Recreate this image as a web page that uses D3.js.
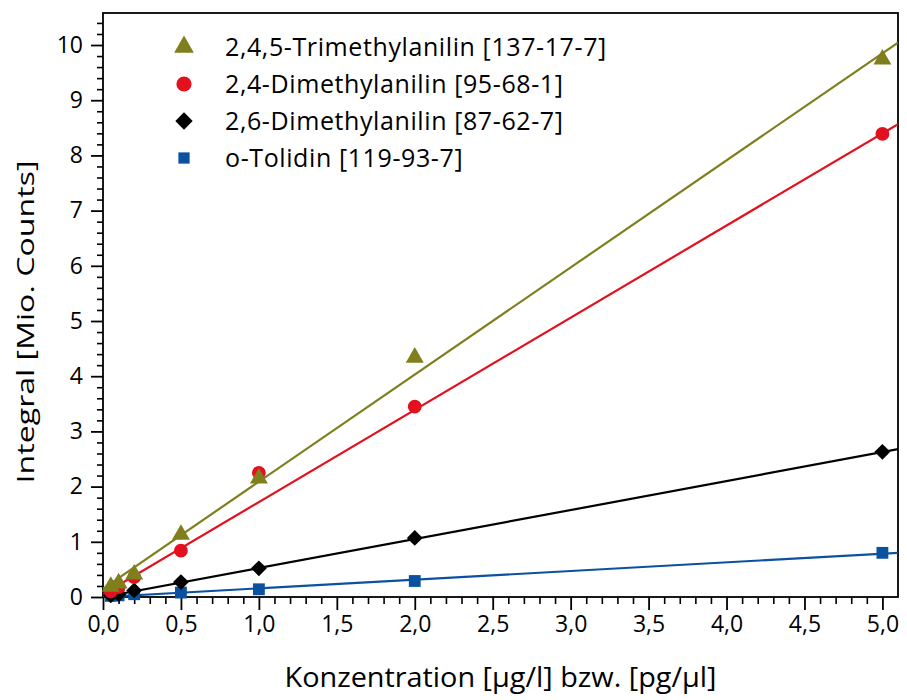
<!DOCTYPE html>
<html>
<head>
<meta charset="utf-8">
<script src="https://cdn.jsdelivr.net/npm/d3@7"></script>
<style>
  html, body { margin: 0; padding: 0; background: #fff; }
  svg { display: block; font-family: "Open Sans", "Noto Sans", sans-serif; }
</style>
</head>
<body>
<svg id="chart" width="907" height="700"></svg>
<script>
// Concentrations (µg/l) shared by all series
const concentrations = [0.05, 0.1, 0.2, 0.5, 1.0, 2.0, 5.0];

// Series names and measured integrals (Mio. counts)
const seriesNames = [
  "2,4,5-Trimethylanilin [137-17-7]",
  "2,4-Dimethylanilin [95-68-1]",
  "2,6-Dimethylanilin [87-62-7]",
  "o-Tolidin [119-93-7]"
];
const trimethylanilin = [0.19, 0.25, 0.41, 1.13, 2.15, 4.34, 9.74];
const dimethylanilin24 = [0.10, 0.18, 0.36, 0.84, 2.25, 3.45, 8.39];
const dimethylanilin26 = [0.03, 0.05, 0.12, 0.27, 0.52, 1.07, 2.63];
const tolidin = [0.02, 0.03, 0.05, 0.08, 0.14, 0.29, 0.80];

// Linear calibration fits: y = slope * x + intercept
const fitSlopes = [1.94, 1.67, 0.525, 0.157];
const fitIntercepts = [0.15, 0.05, 0.0, 0.0];

const seriesColors = ["#7f7f1e", "#e3101e", "#000000", "#0a52a0"];
const seriesValues = [trimethylanilin, dimethylanilin24, dimethylanilin26, tolidin];

// Axis ticks
const xMajorTicks = [0, 0.5, 1.0, 1.5, 2.0, 2.5, 3.0, 3.5, 4.0, 4.5, 5.0];
const yMajorTicks = [0, 1, 2, 3, 4, 5, 6, 7, 8, 9, 10];

const svg = d3.select("#chart");
const W = 907, H = 700;
const margin = { top: 13, right: 9, bottom: 103, left: 103 };
const iw = W - margin.left - margin.right;
const ih = H - margin.top - margin.bottom;

const x = d3.scaleLinear().domain([0, 5.1]).range([0, iw]);
const y = d3.scaleLinear().domain([0, 10.58]).range([ih, 0]);

const g = svg.append("g").attr("transform", `translate(${margin.left},${margin.top})`);

g.append("defs").append("clipPath").attr("id", "plotClip")
  .append("rect").attr("width", iw).attr("height", ih);

const fmt = d => d3.format(".1f")(d).replace(".", ",");

// Marker shapes: triangle, circle, diamond (square turned 45°), square
function marker(sel, i, scale) {
  const k = scale || 1;
  if (i === 0) {
    sel.attr("d", d3.symbol().type(d3.symbolTriangle).size(140 * k * k));
  } else if (i === 1) {
    sel.attr("d", d3.symbol().type(d3.symbolCircle).size(150 * k * k));
  } else if (i === 2) {
    sel.attr("d", d3.symbol().type(d3.symbolSquare).size(125 * k * k));
  } else {
    sel.attr("d", d3.symbol().type(d3.symbolSquare).size(140 * k * k));
  }
}
const markerRotate = i => (i === 2 ? " rotate(45)" : "");

// Minor ticks
const xMinor = d3.range(0, 51).map(i => i / 10).filter(v => Math.round(v * 10) % 5 !== 0);
const yMinor = d3.range(0, 53).map(i => i / 5).filter(v => Math.abs(v - Math.round(v)) > 1e-6);

g.append("g").attr("transform", `translate(0,${ih})`)
  .call(d3.axisBottom(x).tickValues(xMinor).tickSize(7).tickFormat(""))
  .call(a => a.select(".domain").remove())
  .selectAll("line").attr("stroke", "#000").attr("stroke-width", 1.6);

g.append("g")
  .call(d3.axisLeft(y).tickValues(yMinor).tickSize(6).tickFormat(""))
  .call(a => a.select(".domain").remove())
  .selectAll("line").attr("stroke", "#000").attr("stroke-width", 1.6);

// Major ticks with labels
const xAxis = g.append("g").attr("transform", `translate(0,${ih})`)
  .call(d3.axisBottom(x).tickValues(xMajorTicks).tickSize(13).tickPadding(6).tickFormat(fmt));
xAxis.select(".domain").remove();
xAxis.selectAll("line").attr("stroke", "#000").attr("stroke-width", 1.8);
xAxis.selectAll("text").attr("font-size", 23).attr("fill", "#000")
  .attr("font-family", "'Open Sans', sans-serif");

const yAxis = g.append("g")
  .call(d3.axisLeft(y).tickValues(yMajorTicks).tickSize(12).tickPadding(8).tickFormat(d3.format("d")));
yAxis.select(".domain").remove();
yAxis.selectAll("line").attr("stroke", "#000").attr("stroke-width", 1.8);
yAxis.selectAll("text").attr("font-size", 23).attr("fill", "#000")
  .attr("font-family", "'Open Sans', sans-serif");

// Frame
g.append("rect").attr("width", iw).attr("height", ih)
  .attr("fill", "none").attr("stroke", "#000").attr("stroke-width", 1.8);

// Fit lines
const plot = g.append("g").attr("clip-path", "url(#plotClip)");
const line = d3.line().x(d => x(d[0])).y(d => y(d[1]));
seriesNames.forEach((name, i) => {
  const xs = [0, 5.1];
  plot.append("path")
    .datum(xs.map(v => [v, fitSlopes[i] * v + fitIntercepts[i]]))
    .attr("d", line).attr("fill", "none")
    .attr("stroke", seriesColors[i]).attr("stroke-width", 2.2);
});

// Markers (lowest series first so the upper series sit on top)
[3, 2, 1, 0].forEach(i => {
  g.append("g").selectAll("path")
    .data(concentrations.map((c, k) => [c, seriesValues[i][k]]))
    .join("path")
    .attr("transform", d => `translate(${x(d[0])},${y(d[1])})${markerRotate(i)}`)
    .call(marker, i)
    .attr("fill", seriesColors[i]);
});

// Legend
const legend = g.append("g").attr("transform", "translate(81,34)");
seriesNames.forEach((name, i) => {
  const row = legend.append("g").attr("transform", `translate(0,${i * 37})`);
  row.append("path")
    .attr("transform", markerRotate(i).trim())
    .call(marker, i, i === 3 ? 0.95 : 1.1)
    .attr("fill", seriesColors[i]);
  row.append("text").attr("x", 41).attr("y", 0).attr("dy", "0.36em")
    .attr("font-size", 25).attr("letter-spacing", 0.6).attr("fill", "#000").text(name);
});

// Axis titles
svg.append("text")
  .attr("x", margin.left + iw / 2).attr("y", 687)
  .attr("text-anchor", "middle").attr("font-size", 28).attr("fill", "#000")
  .attr("textLength", 432).attr("lengthAdjust", "spacingAndGlyphs")
  .text("Konzentration [µg/l] bzw. [pg/µl]");

svg.append("text")
  .attr("transform", `translate(34,322) rotate(-90)`)
  .attr("text-anchor", "middle").attr("font-size", 24).attr("fill", "#000")
  .attr("textLength", 323).attr("lengthAdjust", "spacingAndGlyphs")
  .text("Integral [Mio. Counts]");
</script>
</body>
</html>
